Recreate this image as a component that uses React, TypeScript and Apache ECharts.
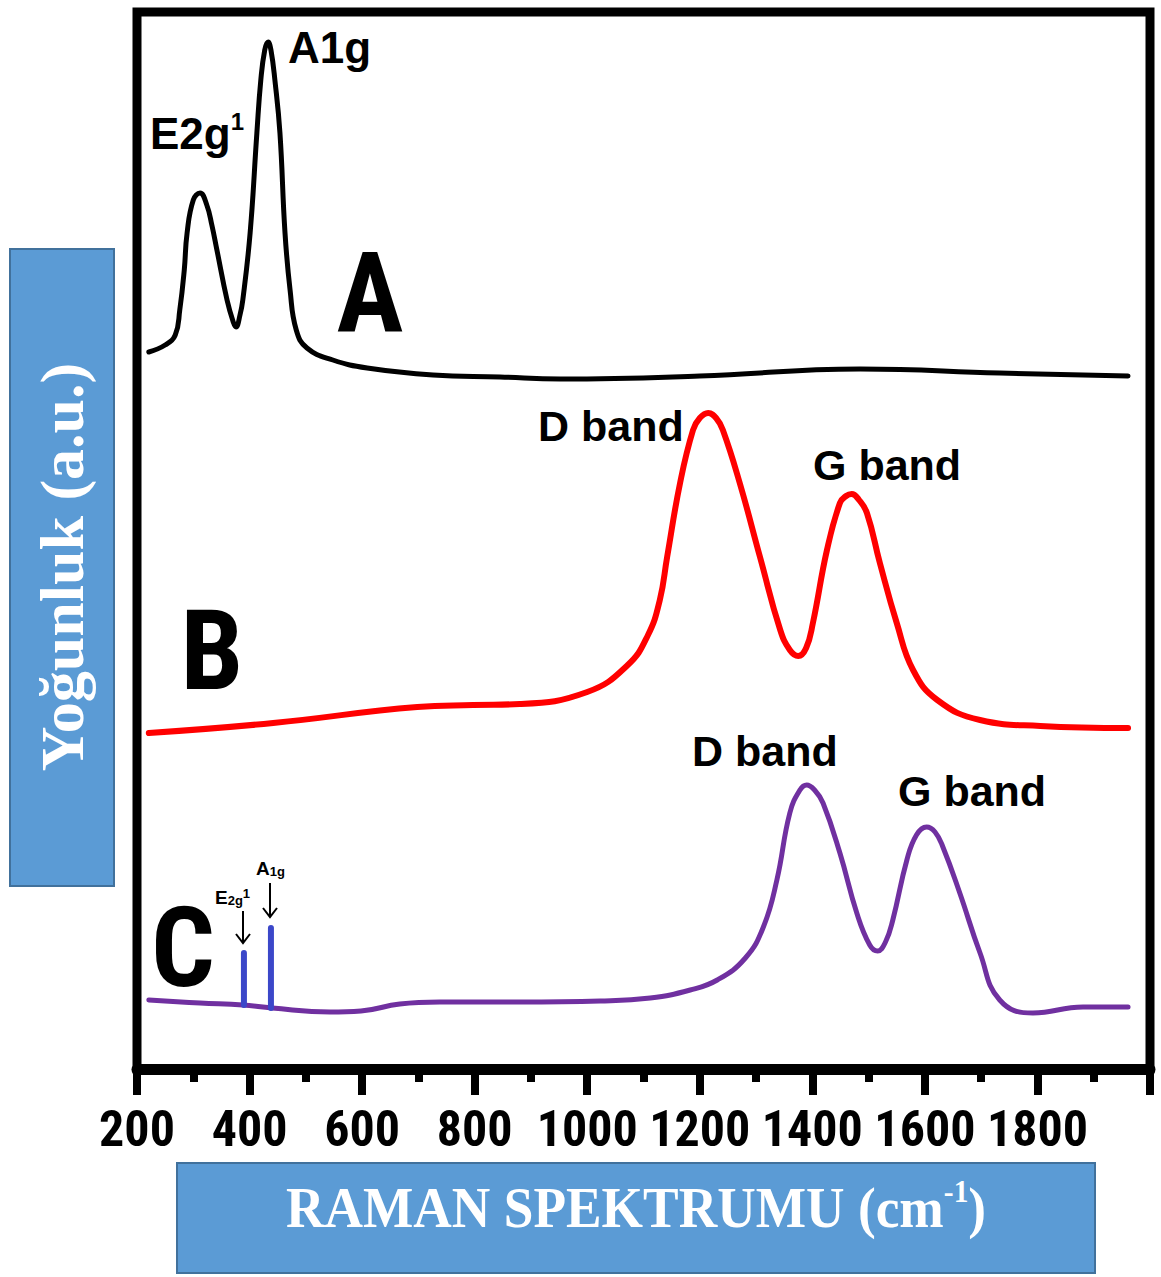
import React, { useEffect, useRef } from "react";
import * as echarts from "echarts";

// Raman shift (cm-1) tick labels
const xTickLabels = [200, 400, 600, 800, 1000, 1200, 1400, 1600, 1800];

// Spectrum A (MoS2-like) [wavenumber, intensity a.u.]
const spectrumA: [number, number][] = [
  [221, 717], [250, 724], [268, 734], [276, 759], [284, 799], [289, 836],
  [300, 869], [312, 876], [324, 864], [333, 844], [342, 819], [360, 769],
  [371, 747], [376, 742], [383, 754], [388, 769], [401, 836], [413, 936],
  [420, 989], [427, 1019], [433, 1027], [438, 1019], [445, 989], [454, 936],
  [463, 836], [472, 779], [483, 739], [502, 721], [548, 709], [609, 701],
  [726, 694], [845, 692], [952, 690], [1200, 693], [1485, 700], [1733, 696],
  [1961, 693],
];

// Spectrum B (carbon, D and G bands)
const spectrumB: [number, number][] = [
  [221, 336], [442, 346], [698, 362], [797, 364], [880, 365], [1000, 377],
  [1072, 404], [1108, 434], [1129, 469], [1142, 512], [1165, 586], [1188, 639],
  [1200, 651], [1215, 656], [1229, 651], [1241, 639], [1271, 586], [1307, 512],
  [1343, 439], [1360, 419], [1375, 413], [1389, 421], [1401, 446], [1426, 519],
  [1449, 566], [1460, 573], [1470, 575], [1483, 569], [1497, 556], [1520, 506],
  [1550, 446], [1579, 399], [1622, 369], [1698, 349], [1805, 343], [1961, 341],
];

// Spectrum C (composite)
const spectrumC: [number, number][] = [
  [221, 69], [312, 66], [388, 64], [440, 61], [543, 57], [598, 58], [667, 65],
  [738, 67], [880, 67], [1023, 68], [1112, 71], [1183, 79], [1231, 89],
  [1281, 111], [1313, 142], [1337, 189], [1360, 256], [1378, 279], [1390, 284],
  [1404, 279], [1419, 266], [1449, 216], [1479, 156], [1502, 124], [1516, 118],
  [1530, 127], [1543, 149], [1568, 209], [1585, 234], [1603, 242], [1618, 237],
  [1632, 222], [1662, 176], [1698, 116], [1733, 69], [1792, 56], [1881, 62],
  [1961, 62],
];

// E2g1 and A1g markers on spectrum C: [wavenumber, bottom, top]
const markerE2g: [number, number, number] = [390, 64, 116];
const markerA1g: [number, number, number] = [438, 61, 141];

const SANS = '"Liberation Sans", Arial, sans-serif';
const SERIF = '"Liberation Serif", "Times New Roman", serif';
const NARROW_CANDIDATES = [
  "Liberation Sans Narrow",
  "Arial Narrow",
  "Roboto Condensed",
  "DejaVu Sans Condensed",
  "Noto Sans Condensed",
  "Open Sans Condensed",
];

function pickNarrow(): string | null {
  const ctx = document.createElement("canvas").getContext("2d");
  if (!ctx) return null;
  const sample = "0123456789 ABC band";
  const w = (font: string) => {
    ctx.font = font;
    return ctx.measureText(sample).width;
  };
  for (const f of NARROW_CANDIDATES) {
    const a = w(`bold 40px "${f}", monospace`) !== w("bold 40px monospace");
    const b = w(`bold 40px "${f}", serif`) !== w("bold 40px serif");
    if (a && b) return f;
  }
  return null;
}

function text(x: number, y: number, str: string, font: string, extra: any = {}, props: any = {}) {
  return {
    type: "text",
    x,
    y,
    z: 100,
    ...props,
    style: {
      text: str,
      font,
      fill: "#000",
      textAlign: "left",
      textVerticalAlign: "middle",
      align: "left",
      verticalAlign: "middle",
      ...extra,
    },
  };
}

export default function App() {
  const ref = useRef<HTMLDivElement>(null);
  useEffect(() => {
    document.body.style.margin = "0";
    const narrow = pickNarrow();
    const tickFont = narrow ? `"${narrow}", ${SANS}` : SANS;
    const tickSize = narrow ? 50 : 38;
    const bigFont = narrow ? `bold 112px "${narrow}", ${SANS}` : `bold 112px ${SANS}`;
    const bigScale = narrow ? 1 : 0.8;
    const chart = echarts.init(ref.current!, null, { renderer: "svg" });
    const lineSeries = (name: string, data: [number, number][], color: string, width: number) => ({
      name,
      type: "line",
      data,
      smooth: 0.45,
      showSymbol: false,
      symbol: "none",
      lineStyle: { color, width, cap: "round", join: "round" },
      z: 3,
    });
    const marker = (m: [number, number, number]) => ({
      type: "line",
      data: [[m[0], m[1]], [m[0], m[2]]],
      showSymbol: false,
      symbol: "none",
      lineStyle: { color: "#3b47c9", width: 6, cap: "round" },
      z: 4,
    });
    chart.setOption({
      animation: false,
      backgroundColor: "#fff",
      grid: {
        left: 137,
        right: 11,
        top: 12,
        bottom: 208,
        show: true,
        borderColor: "#000",
        borderWidth: 9,
        backgroundColor: "transparent",
      },
      xAxis: {
        type: "value",
        min: 200,
        max: 2000,
        interval: 200,
        axisLine: { show: true, onZero: false, lineStyle: { color: "#000", width: 11 } },
        axisTick: { show: true, length: 26, lineStyle: { color: "#000", width: 8 } },
        minorTick: { show: true, splitNumber: 2, length: 13, lineStyle: { color: "#000", width: 8 } },
        splitLine: { show: false },
        axisLabel: {
          margin: narrow ? 35 : 40,
          color: "#000",
          fontSize: tickSize,
          fontWeight: "bold",
          fontFamily: tickFont,
          formatter: (v: number) => (xTickLabels.includes(v) ? String(v) : ""),
        },
      },
      yAxis: {
        type: "value",
        min: 0,
        max: 1057,
        show: true,
        axisLine: { show: false },
        axisTick: { show: false },
        axisLabel: { show: false },
        splitLine: { show: false },
      },
      series: [
        lineSeries("A", spectrumA, "#000000", 5),
        lineSeries("B", spectrumB, "#ff0000", 6),
        lineSeries("C", spectrumC, "#7030a0", 5),
        marker(markerE2g),
        marker(markerA1g),
      ],
      graphic: [
        // y-axis title box
        {
          type: "rect",
          shape: { x: 10, y: 249, width: 104, height: 637 },
          style: { fill: "#5b9bd5", stroke: "#41719c", lineWidth: 2 },
          z: 50,
        },
        {
          type: "text",
          x: 62,
          y: 567,
          rotation: Math.PI / 2,
          z: 60,
          style: {
            text: "Yoğunluk (a.u.)",
            font: `bold 62px ${SERIF}`,
            fill: "#fff",
            textAlign: "center",
            textVerticalAlign: "middle",
            align: "center",
            verticalAlign: "middle",
          },
        },
        // x-axis title box
        {
          type: "rect",
          shape: { x: 177, y: 1163, width: 918, height: 110 },
          style: { fill: "#5b9bd5", stroke: "#41719c", lineWidth: 2 },
          z: 50,
        },
        {
          type: "text",
          x: 636,
          y: 1207,
          z: 60,
          scaleX: 0.92,
          style: {
            text: "{a|RAMAN SPEKTRUMU (cm}{s|-1}{a|)}",
            fill: "#fff",
            textAlign: "center",
            textVerticalAlign: "middle",
            align: "center",
            verticalAlign: "middle",
            rich: {
              a: { fontFamily: SERIF, fontWeight: "bold", fontSize: 58, fill: "#fff", lineHeight: 62 },
              s: { fontFamily: SERIF, fontWeight: "bold", fontSize: 32, fill: "#fff", lineHeight: 32, verticalAlign: "top" },
            },
          },
        },
        // peak labels
        text(288, 47, "A1g", `bold 44px ${SANS}`),
        {
          type: "text",
          x: 150,
          y: 133,
          z: 100,
          style: {
            text: "{a|E2g}{s|1}",
            textAlign: "left",
            textVerticalAlign: "middle",
            align: "left",
            verticalAlign: "middle",
            rich: {
              a: { fontFamily: SANS, fontWeight: "bold", fontSize: 44, fill: "#000", lineHeight: 48 },
              s: { fontFamily: SANS, fontWeight: "bold", fontSize: 24, fill: "#000", lineHeight: 26, verticalAlign: "top" },
            },
          },
        },
        text(538, 426, "D band", `bold 43px ${SANS}`),
        text(813, 465, "G band", `bold 43px ${SANS}`),
        text(692, 751, "D band", `bold 43px ${SANS}`),
        text(898, 791, "G band", `bold 43px ${SANS}`),
        // big panel letters
        text(370, 292, "A", bigFont, { textAlign: "center", align: "center" }, { scaleX: bigScale }),
        text(212, 650, "B", bigFont, { textAlign: "center", align: "center" }, { scaleX: bigScale }),
        text(183, 947, "C", bigFont, { textAlign: "center", align: "center" }, { scaleX: bigScale }),
        // small annotations on C
        {
          type: "text",
          x: 215,
          y: 897,
          z: 100,
          style: {
            text: "{a|E}{b|2g}{c|1}",
            textAlign: "left",
            textVerticalAlign: "middle",
            align: "left",
            verticalAlign: "middle",
            rich: {
              a: { fontFamily: SANS, fontWeight: "bold", fontSize: 19, fill: "#000", lineHeight: 20 },
              b: { fontFamily: SANS, fontWeight: "bold", fontSize: 13, fill: "#000", lineHeight: 13, verticalAlign: "bottom" },
              c: { fontFamily: SANS, fontWeight: "bold", fontSize: 13, fill: "#000", lineHeight: 13, verticalAlign: "top" },
            },
          },
        },
        {
          type: "text",
          x: 256,
          y: 868,
          z: 100,
          style: {
            text: "{a|A}{b|1g}",
            textAlign: "left",
            textVerticalAlign: "middle",
            align: "left",
            verticalAlign: "middle",
            rich: {
              a: { fontFamily: SANS, fontWeight: "bold", fontSize: 19, fill: "#000", lineHeight: 20 },
              b: { fontFamily: SANS, fontWeight: "bold", fontSize: 13, fill: "#000", lineHeight: 13, verticalAlign: "bottom" },
            },
          },
        },
        { type: "line", z: 100, shape: { x1: 243, y1: 911, x2: 243, y2: 943 }, style: { stroke: "#000", lineWidth: 2 } },
        { type: "polyline", z: 100, shape: { points: [[236, 934], [243, 943], [250, 934]] }, style: { stroke: "#000", lineWidth: 2, fill: null } },
        { type: "line", z: 100, shape: { x1: 270, y1: 883, x2: 270, y2: 917 }, style: { stroke: "#000", lineWidth: 2 } },
        { type: "polyline", z: 100, shape: { points: [[263, 908], [270, 917], [277, 908]] }, style: { stroke: "#000", lineWidth: 2, fill: null } },
      ],
    });
    return () => chart.dispose();
  }, []);
  return <div ref={ref} style={{ width: 1161, height: 1277 }} />;
}
